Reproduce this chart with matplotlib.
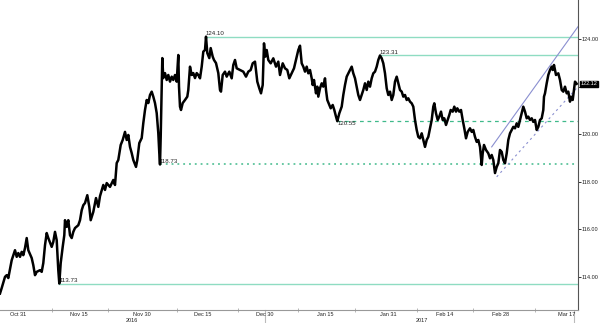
import matplotlib
matplotlib.use("Agg")
import matplotlib.pyplot as plt
import matplotlib.transforms as mtransforms

plt.rcParams['font.family'] = ['Liberation Sans', 'DejaVu Sans']

# ---- data (session position along the trading-time axis, price) ----
session_a = [0, 1.7, 5, 6.7, 8.3, 11.7, 15, 16.7, 18.3, 20, 21.7, 23.3, 25, 26.7, 28.3, 31.7, 33.3, 35, 36.7, 40,
             41.7, 43.3, 45, 46.7, 48.3, 51.7, 53.3, 55, 56.7, 58.3, 59.3, 60.7, 62.7, 64.3, 65, 66.7, 68.3, 70, 71.7,
             73.3, 75, 78.3, 80, 81.7, 83.3, 85, 87.3, 89.3, 90.7, 93.3, 96, 98.3]
price_a = [113.31, 113.54, 114.01, 114.08, 113.96, 114.71, 115.13, 114.85, 115.01, 114.85, 115.06, 114.92, 115.22,
           115.64, 115.13, 114.80, 114.50, 114.08, 114.22, 114.29, 114.22, 114.59, 115.34, 115.85, 115.64, 115.27,
           115.48, 115.90, 115.55, 114.29, 113.73, 114.59, 115.27, 115.76, 116.39, 116.11, 116.39, 115.76, 115.64,
           115.90, 116.06, 116.18, 116.39, 116.81, 117.02, 117.11, 117.44, 116.95, 116.39, 116.74, 117.32, 116.95]

session_b = [100, 103.3, 105, 106.7, 110, 113.3, 115, 116.7, 118.3, 120.7, 122.7, 125, 126.7, 128.3, 130, 131.7,
             133.3, 136, 137.3, 139.3, 141.7, 143.3, 145, 146.7, 148.3, 150, 151.7, 153.3, 155, 156.7, 158.3, 159.3,
             160, 160.7, 161.7, 162.3, 163.3, 165, 166.7, 168.3, 170, 171.7, 173.3, 175, 176.7, 178.3, 179, 180, 181,
             182.7, 185, 187.3, 188.3, 190, 191.7, 193.3, 195, 196.7, 198.3]
price_b = [117.40, 117.87, 117.66, 117.95, 117.79, 118.08, 117.87, 118.79, 118.92, 119.55, 119.76, 120.10, 119.76,
           119.97, 119.47, 119.21, 118.92, 118.63, 118.92, 119.63, 119.84, 120.47, 121.02, 121.44, 121.31, 121.65,
           121.79, 121.58, 121.31, 120.89, 120.05, 119.21, 118.73, 119.89, 122.00, 123.20, 122.36, 122.57, 122.28,
           122.49, 122.21, 122.42, 122.28, 122.49, 122.21, 123.33, 122.00, 121.16, 121.02, 121.31, 121.44, 121.58,
           121.86, 122.84, 122.49, 122.57, 122.36, 122.57, 122.49]

session_c = [200, 201.7, 203.3, 205, 206, 207.3, 209.3, 210.7, 212.7, 214, 216, 218.3, 220, 221, 222.7, 225, 226.7,
             229.3, 231.7, 233.3, 235, 236.7, 240, 243.3, 246, 248.3, 250.7, 252.7, 255, 257.3, 259.3, 261, 262.7,
             264, 265.3, 266.7, 268.3, 270.7, 273.3, 276, 278.3, 280, 282.7, 285, 287.3, 289.3, 291.7, 294, 296, 298.3]
price_c = [122.35, 122.84, 123.47, 123.54, 124.10, 123.41, 123.20, 123.62, 123.26, 123.12, 122.99, 122.57, 121.86,
           121.79, 122.49, 122.63, 122.42, 122.63, 122.35, 122.91, 123.12, 122.77, 122.70, 122.63, 122.42, 122.63,
           122.70, 122.98, 123.05, 122.21, 121.93, 121.72, 122.07, 123.82, 123.26, 123.54, 123.12, 122.98, 123.19,
           122.84, 123.05, 122.49, 122.98, 122.77, 122.70, 122.35, 122.56, 122.77, 123.12, 123.54]

session_d = [300, 301.7, 303.3, 305, 306.7, 308.3, 310, 311.7, 312.7, 314, 316, 317.3, 318.3, 320, 321.7, 323.3, 325,
             326, 327.3, 329.3, 330.7, 332.7, 334.3, 336, 337.3, 339.3, 341.7, 343.3, 345, 346.7, 348.3, 350, 351.7,
             353.3, 355, 356.7, 358.3, 360, 361.7, 363.3, 365, 366.7, 368.3, 370, 371.7, 373.3, 375, 376.7, 378.3,
             380, 381.7, 383.3, 385, 386.7, 388.3, 390, 391.7, 393.3, 395, 396.7, 398.3]
price_d = [123.72, 122.98, 122.84, 122.63, 122.84, 122.56, 122.70, 122.35, 122.07, 122.28, 121.72, 122.00, 121.58,
           121.93, 122.14, 122.00, 122.35, 121.86, 121.44, 121.23, 121.09, 121.23, 121.02, 120.74, 120.55, 120.88,
           121.16, 121.65, 122.07, 122.42, 122.56, 122.70, 122.84, 122.56, 122.35, 122.00, 121.65, 121.44, 121.65,
           121.86, 122.14, 121.86, 122.21, 122.00, 122.35, 122.56, 122.63, 122.84, 123.12, 123.31, 123.19, 122.98,
           122.56, 121.93, 121.65, 121.79, 121.44, 121.65, 122.21, 122.42, 122.14]

session_e = [400, 401.7, 403.3, 405, 406.7, 408.3, 410, 411.7, 413.3, 415, 416.7, 418.3, 420, 421.7, 423.3, 425,
             426.7, 428.3, 430, 431.7, 433.3, 434.3, 436, 437.7, 439.3, 441, 442.7, 444.3, 446, 447.7, 449.3, 450.7,
             452.7, 454.3, 456, 457.3, 459.3, 461, 462.7, 464.3, 466, 467.7, 470, 471.7, 473.3, 475, 476.7, 478.3,
             480, 481.7, 482.7, 484, 486, 488.3, 490, 491.7, 493.3, 495, 496.7, 498.3]
price_e = [121.86, 121.79, 121.58, 121.65, 121.44, 121.51, 121.37, 121.30, 121.16, 120.60, 120.18, 119.89, 119.83,
           120.04, 119.76, 119.47, 119.76, 119.89, 120.25, 120.60, 121.16, 121.30, 120.88, 120.60, 120.74, 120.95,
           120.60, 120.67, 120.39, 120.60, 120.81, 121.02, 120.95, 121.16, 120.95, 121.09, 120.95, 121.02, 120.60,
           120.25, 119.83, 120.10, 120.25, 120.10, 120.18, 119.89, 119.68, 119.76, 119.47, 118.71, 119.20, 119.55,
           119.34, 119.20, 118.99, 119.13, 118.92, 118.37, 118.63, 118.78]

session_f = [500, 501.7, 503.3, 505, 506.7, 508.3, 510, 511.7, 513.3, 515, 516.7, 518.3, 520, 521.7, 523.3, 525,
             526.7, 528.3, 530, 531.7, 533.3, 535, 536.7, 538.3, 540, 541.7, 543.3, 544, 545, 546.7, 548.3, 550,
             551.7, 552.7, 554, 556, 558.3, 560, 561.7, 563.3, 565, 566.7, 568.3, 570, 571, 572.7, 574, 575, 576.7]
price_f = [119.34, 119.26, 118.92, 118.78, 119.20, 119.76, 120.04, 120.18, 120.31, 120.25, 120.46, 120.31, 120.60,
           120.88, 121.16, 120.95, 120.67, 120.74, 120.60, 120.67, 120.52, 120.60, 120.18, 120.31, 120.60, 120.67,
           121.02, 121.58, 121.72, 122.14, 122.49, 122.70, 122.84, 122.70, 122.91, 122.49, 122.56, 122.28, 121.86,
           121.79, 122.00, 121.72, 121.79, 121.37, 121.58, 121.44, 121.86, 122.21, 122.12]

# horizontal reference levels: value, session where it starts, style, label side
level_values = [124.10, 123.31, 120.55, 118.73, 113.73]
level_starts = [206, 380, 337.3, 160, 59.3]
level_styles = ["solid", "solid", "dashed", "dotted", "solid"]
level_label_below = [False, False, True, False, False]

# channel trend lines (session, price)
upper_channel_s = [491.7, 578]
upper_channel_p = [119.47, 124.52]
lower_channel_s = [496.7, 576.7]
lower_channel_p = [118.21, 121.94]

last_price = 122.12

x_tick_labels = ["Oct 31", "Nov 15", "Nov 30", "Dec 15", "Dec 30", "Jan 15", "Jan 31", "Feb 14", "Feb 28", "Mar 17"]
x_label_pos = [18, 78.5, 142, 203, 265, 325, 388, 445, 501, 567]
x_tick_pos = [52, 108, 177, 238, 298, 355, 417, 473, 535]
year_labels = ["2016", "2017"]
year_label_pos = [132, 422]
year_sep_pos = [265, 574]
y_ticks = [114, 116, 118, 120, 122, 124]
y_tick_labels = ["114.00", "116.00", "118.00", "120.00", "", "124.00"]

session = session_a + session_b + session_c + session_d + session_e + session_f
price = price_a + price_b + price_c + price_d + price_e + price_f

# ---- figure ----
W, H = 600, 323
fig = plt.figure(figsize=(W / 100, H / 100), dpi=100)
ax = fig.add_axes([0, 13.3 / H, 578 / W, 309.7 / H])
ax.set_xlim(0, 578)
ax.set_ylim(112.63, 125.64)

teal = "#8fdcc2"
teal_dark = "#3fb98a"
purple = "#8a8fd0"
fs = 4.0

for val, start, style, below in zip(level_values, level_starts, level_styles, level_label_below):
    if style == "solid":
        ax.plot([start, 578], [val, val], color=teal, lw=1.0, zorder=1)
    elif style == "dashed":
        ax.plot([start, 578], [val, val], color=teal_dark, lw=0.9, ls=(0, (3, 3)), zorder=1)
    else:
        ax.plot([start, 578], [val, val], color=teal_dark, lw=1.1, ls=(0, (1.2, 2.6)), zorder=1)
    dy = -0.11 if below else 0.13
    ax.text(start, val + dy, f"{val:.2f}", fontsize=4.4, color="#222222",
            ha="left", va="center", zorder=3)

ax.plot(upper_channel_s, upper_channel_p, color=purple, lw=0.8, zorder=2, clip_on=False)
ax.plot(lower_channel_s, lower_channel_p, color=purple, lw=0.8, ls=(0, (2, 3)), zorder=2)

ax.plot(session, price, color="black", lw=1.8, zorder=4)

# spines
for s in ["left", "top"]:
    ax.spines[s].set_visible(False)
ax.spines["right"].set_color("#555555")
ax.spines["bottom"].set_color("#999999")
ax.spines["right"].set_linewidth(0.8)
ax.spines["bottom"].set_linewidth(0.8)

# y axis on right
ax.yaxis.tick_right()
ax.set_yticks(y_ticks)
ax.set_yticklabels(y_tick_labels)
ax.tick_params(axis="y", direction="out", length=2.0, width=0.7, pad=0.5, labelsize=fs,
               colors="#333333", labelcolor="#222222")

# x axis
ax.set_xticks(x_tick_pos)
ax.set_xticklabels([])
ax.tick_params(axis="x", direction="inout", length=3, width=0.6, colors="#aaaaaa")

trans = mtransforms.blended_transform_factory(ax.transData, ax.transAxes)
month_y = -(314 - 309.7) / 309.7
for lab, pos in zip(x_tick_labels, x_label_pos):
    ax.text(pos, month_y, lab, transform=trans, fontsize=fs, color="#222222",
            ha="center", va="center", clip_on=False)
ftrans = mtransforms.blended_transform_factory(ax.transData, fig.transFigure)
for lab, pos in zip(year_labels, year_label_pos):
    ax.text(pos, 0.5 / H, lab, transform=ftrans, fontsize=fs, color="#222222",
            ha="center", va="bottom", clip_on=False)
for pos in year_sep_pos:
    ax.plot([pos, pos], [0, -0.05], transform=trans, color="#bbbbbb", lw=0.8, clip_on=False)

# last price box
ytrans = mtransforms.blended_transform_factory(ax.transAxes, ax.transData)
ax.text(1.005, last_price, f"{last_price:.2f}", transform=ytrans, fontsize=fs, color="white",
        ha="left", va="center", clip_on=False,
        bbox=dict(boxstyle="square,pad=0.12", fc="black", ec="black"))

fig.savefig("out.png", dpi=100)
